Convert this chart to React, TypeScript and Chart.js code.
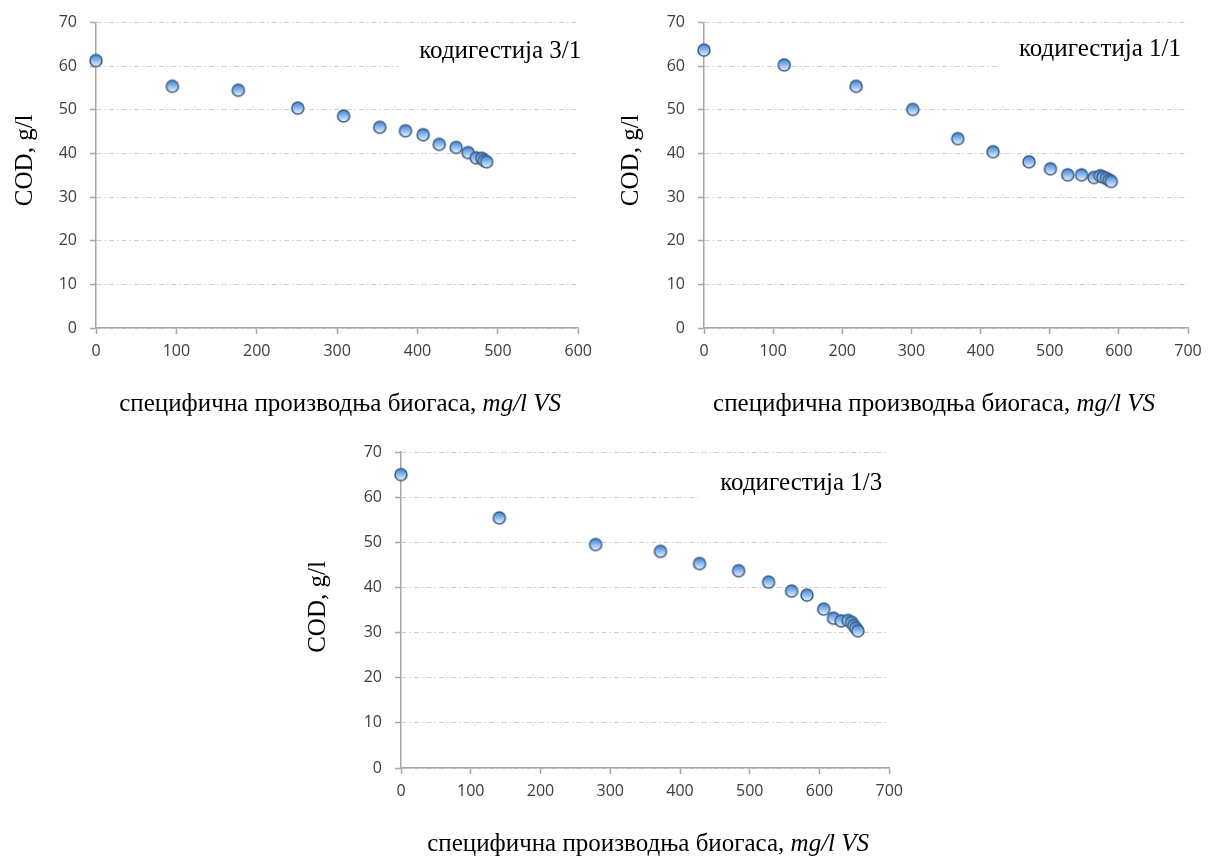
import React, { useEffect, useRef } from 'react';
import { Chart, registerables } from 'chart.js';
Chart.register(...registerables);

// ---------- data ----------
const yTickValues = [0, 10, 20, 30, 40, 50, 60, 70];
const xTicks600 = [0, 100, 200, 300, 400, 500, 600];
const xTicks700 = [0, 100, 200, 300, 400, 500, 600, 700];

const label31 = 'кодигестија 3/1';
const x31 = [0, 95, 177, 251, 308, 353, 385, 407, 427, 448, 463, 473, 480, 483, 486];
const y31 = [61.3, 55.4, 54.5, 50.4, 48.6, 46.0, 45.2, 44.3, 42.1, 41.4, 40.2, 39.0, 38.9, 38.4, 38.1];

const label11 = 'кодигестија 1/1';
const x11 = [0, 116, 220, 302, 367, 418, 470, 501, 526, 546, 564, 573, 577, 582, 586, 589];
const y11 = [63.7, 60.3, 55.4, 50.1, 43.4, 40.4, 38.1, 36.5, 35.1, 35.1, 34.5, 34.9, 34.6, 34.3, 33.9, 33.6];

const label13 = 'кодигестија 1/3';
const x13 = [0, 141, 279, 372, 428, 484, 527, 560, 582, 606, 620, 631, 641, 646, 649, 652, 655];
const y13 = [65.0, 55.4, 49.5, 48.0, 45.3, 43.7, 41.2, 39.2, 38.3, 35.2, 33.2, 32.6, 32.7, 32.3, 31.6, 31.0, 30.4];

const yTitle = 'COD, g/l';
const xTitleMain = 'специфична производња биогаса, ';
const xTitleItalic = 'mg/l VS';

// ---------- styles ----------
const AXIS = '#a6a6a6';
const GRID = '#cfcfcf';
const TICK = '#3c3c3c';
const SERIF = '"Liberation Serif", "Times New Roman", serif';
const SERIF_SIZE = 25;

function makeMarker() {
  const c = document.createElement('canvas');
  const s = 16;
  c.width = s;
  c.height = s;
  const g = c.getContext('2d')!;
  const grad = g.createLinearGradient(0, 2, 0, 14);
  grad.addColorStop(0, '#3a83dc');
  grad.addColorStop(0.45, '#86b6ee');
  grad.addColorStop(1, '#eef5fd');
  g.beginPath();
  g.arc(8, 8, 6, 0, Math.PI * 2);
  g.fillStyle = grad;
  g.fill();
  g.lineWidth = 1.5;
  g.strokeStyle = '#3d5b80';
  g.stroke();
  return c;
}

const annotPlugin = {
  id: 'annot',
  beforeDatasetsDraw(chart: any, _args: any, opts: any) {
    const { ctx, chartArea: a, scales } = chart;
    const y = scales.y;
    const bx = a.left + opts.boxLeft;
    const by1 = y.getPixelForValue(68);
    const by2 = y.getPixelForValue(56);
    ctx.save();
    ctx.fillStyle = '#ffffff';
    ctx.fillRect(bx, by1, a.right - bx + 2, by2 - by1);
    ctx.restore();
  },
  afterDraw(chart: any, _args: any, opts: any) {
    const { ctx, chartArea: a } = chart;
    ctx.save();
    ctx.fillStyle = '#000000';
    // corner label
    ctx.font = `${SERIF_SIZE}px ${SERIF}`;
    ctx.textAlign = 'right';
    ctx.textBaseline = 'middle';
    ctx.fillText(opts.label, a.right + opts.labelDx, a.top + opts.labelDy);
    // y title
    ctx.save();
    ctx.translate(opts.yTitleX, (a.top + a.bottom) / 2 + opts.yTitleDy);
    ctx.rotate(-Math.PI / 2);
    ctx.textAlign = 'center';
    ctx.textBaseline = 'middle';
    ctx.fillText(yTitle, 0, 0);
    ctx.restore();
    // x title (mixed normal / italic)
    const normalFont = `${SERIF_SIZE}px ${SERIF}`;
    const italicFont = `italic ${SERIF_SIZE}px ${SERIF}`;
    ctx.font = normalFont;
    const w1 = ctx.measureText(xTitleMain).width;
    ctx.font = italicFont;
    const w2 = ctx.measureText(xTitleItalic).width;
    const cx = (a.left + a.right) / 2 + opts.xTitleDx;
    const startX = cx - (w1 + w2) / 2;
    const baseY = a.bottom + opts.xTitleDy;
    ctx.textAlign = 'left';
    ctx.textBaseline = 'alphabetic';
    ctx.font = normalFont;
    ctx.fillText(xTitleMain, startX, baseY);
    ctx.font = italicFont;
    ctx.fillText(xTitleItalic, startX + w1, baseY);
    ctx.restore();
  },
};

type PanelProps = {
  xs: number[];
  ys: number[];
  xTicks: number[];
  label: string;
  left: number;
  top: number;
  width: number;
  height: number;
  padTop: number;
  padRight: number;
  yAxisWidth: number;
  xAxisHeight: number;
  annot: any;
};

function ScatterPanel(props: PanelProps) {
  const ref = useRef<HTMLCanvasElement>(null);
  useEffect(() => {
    const marker = makeMarker();
    const xMax = props.xTicks[props.xTicks.length - 1];
    const chart = new Chart(ref.current!, {
      type: 'scatter',
      data: {
        datasets: [
          {
            data: props.xs.map((x, i) => ({ x, y: props.ys[i] })),
            pointStyle: marker as any,
            pointRadius: 6,
            pointHoverRadius: 6,
            clip: false as any,
          },
        ],
      },
      options: {
        animation: false,
        responsive: false,
        maintainAspectRatio: false,
        events: [],
        layout: { padding: { top: props.padTop, right: props.padRight, left: 0, bottom: 0 } },
        plugins: {
          legend: { display: false },
          tooltip: { enabled: false },
          annot: { ...props.annot, label: props.label },
        } as any,
        scales: {
          x: {
            type: 'linear',
            min: 0,
            max: xMax,
            afterBuildTicks: (s: any) => {
              s.ticks = props.xTicks.map((v) => ({ value: v }));
            },
            afterFit: (s: any) => {
              s.height = props.xAxisHeight;
            },
            grid: { drawOnChartArea: false, drawTicks: true, tickLength: 6, tickColor: AXIS, tickWidth: 1.5 },
            border: { color: AXIS, width: 1.5 },
            ticks: {
              font: { family: '"Open Sans"', size: 16 },
              color: TICK,
              padding: 8,
              maxRotation: 0,
              autoSkip: false,
            },
          },
          y: {
            type: 'linear',
            min: 0,
            max: 70,
            afterBuildTicks: (s: any) => {
              s.ticks = yTickValues.map((v) => ({ value: v }));
            },
            afterFit: (s: any) => {
              s.width = props.yAxisWidth;
            },
            grid: { color: GRID, lineWidth: 1, drawTicks: true, tickLength: 6, tickColor: AXIS, tickWidth: 1.5 },
            border: { color: AXIS, width: 1.5, dash: [5, 3, 1.5, 3] },
            ticks: {
              font: { family: '"Open Sans"', size: 16 },
              color: TICK,
              padding: 13,
            },
          },
        },
      } as any,
      plugins: [annotPlugin],
    });
    return () => chart.destroy();
  }, []);
  return (
    <canvas
      ref={ref}
      width={props.width}
      height={props.height}
      style={{ position: 'absolute', left: props.left, top: props.top, width: props.width, height: props.height }}
    />
  );
}

export default function App() {
  return (
    <div style={{ position: 'absolute', left: 0, top: 0, width: 1211, height: 865, background: '#fff', overflow: 'hidden' }}>
      <ScatterPanel
        xs={x31}
        ys={y31}
        xTicks={xTicks600}
        label={label31}
        left={0}
        top={0}
        width={600}
        height={440}
        padTop={16}
        padRight={16}
        yAxisWidth={96}
        xAxisHeight={112}
        annot={{ boxLeft: 303, labelDx: 3, labelDy: 29, yTitleX: 25, yTitleDy: -15, xTitleDx: 3, xTitleDy: 83 }}
      />
      <ScatterPanel
        xs={x11}
        ys={y11}
        xTicks={xTicks700}
        label={label11}
        left={600}
        top={0}
        width={611}
        height={440}
        padTop={16}
        padRight={23}
        yAxisWidth={104}
        xAxisHeight={112}
        annot={{ boxLeft: 293, labelDx: -7, labelDy: 27, yTitleX: 31, yTitleDy: -15, xTitleDx: -12, xTitleDy: 83 }}
      />
      <ScatterPanel
        xs={x13}
        ys={y13}
        xTicks={xTicks700}
        label={label13}
        left={300}
        top={420}
        width={611}
        height={445}
        padTop={32}
        padRight={21}
        yAxisWidth={101}
        xAxisHeight={97}
        annot={{ boxLeft: 297, labelDx: -7, labelDy: 31, yTitleX: 18, yTitleDy: -3, xTitleDx: 3, xTitleDy: 83 }}
      />
    </div>
  );
}
